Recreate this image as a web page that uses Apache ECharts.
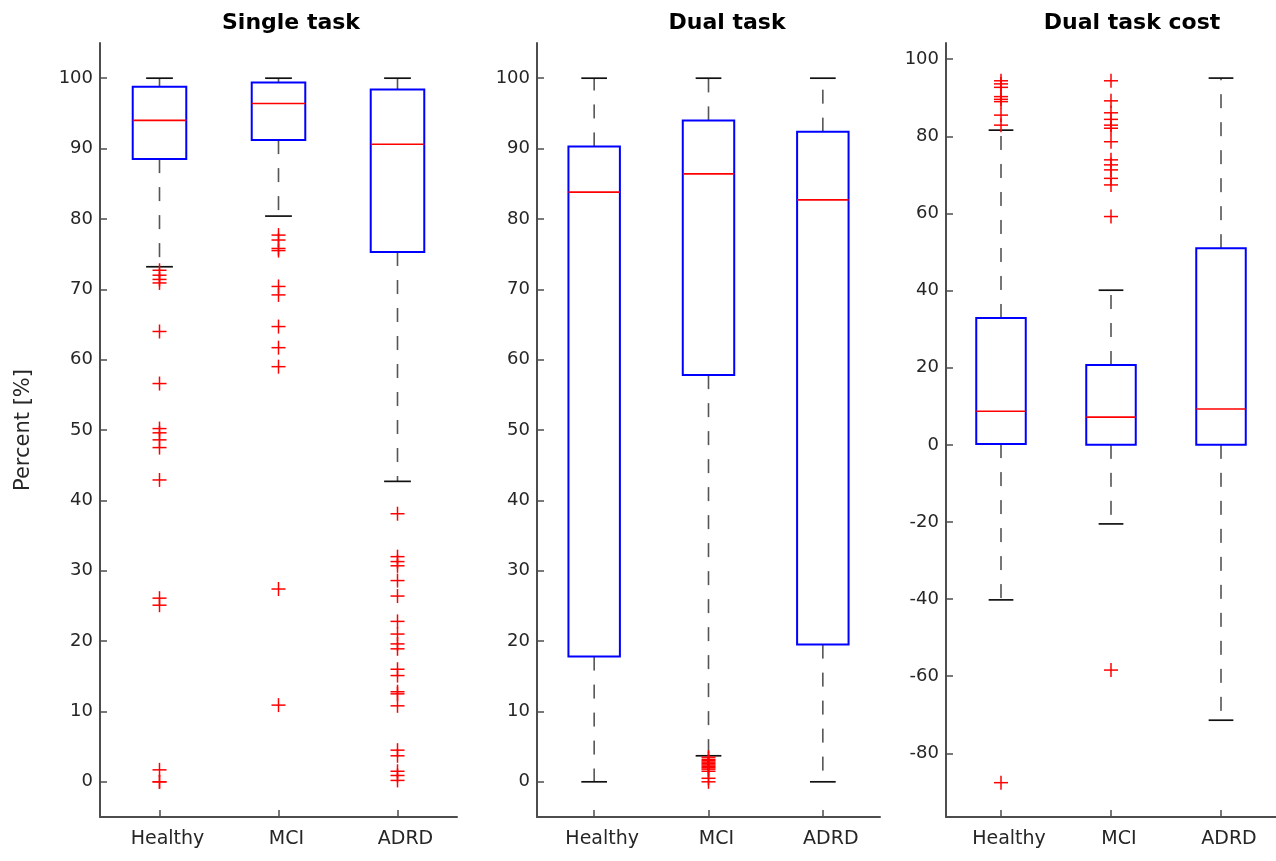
<!DOCTYPE html>
<html>
<head>
<meta charset="utf-8">
<script src="https://cdn.jsdelivr.net/npm/echarts@6/dist/echarts.min.js"></script>
<style>
html,body{margin:0;padding:0;background:#fff;}
#chart{width:1276px;height:861px;}
</style>
</head>
<body>
<div id="chart"></div>
<script>
// ---- data ----
const categories = ['Healthy', 'MCI', 'ADRD'];
const panelTitles = ['Single task', 'Dual task', 'Dual task cost'];
const yAxisName = 'Percent [%]';

// box stats per category: [lower whisker, Q1, median, Q3, upper whisker]
const singleBox = [
  [73.2, 88.5, 94.0, 98.8, 100],
  [80.4, 91.2, 96.4, 99.4, 100],
  [42.7, 75.3, 90.6, 98.4, 100]
];
const dualBox = [
  [0, 17.8, 83.8, 90.3, 100],
  [3.7, 57.8, 86.4, 94.0, 100],
  [0, 19.5, 82.7, 92.4, 100]
];
const costBox = [
  [-40.2, 0.2, 8.7, 32.9, 81.6],
  [-20.5, 0.0, 7.2, 20.7, 40.1],
  [-71.4, 0.0, 9.3, 51.0, 95.1]
];

// outliers per category
const singleOutHealthy = [72.7, 72.0, 71.4, 70.9, 64.0, 56.6, 50.2, 49.6, 48.6, 47.5, 42.9, 26.1, 25.1, 1.7, 0.0, 0.0];
const singleOutMCI = [77.7, 77.0, 75.8, 75.5, 70.4, 69.2, 64.7, 61.7, 59.0, 27.4, 10.9];
const singleOutADRD = [38.1, 32.0, 31.3, 30.7, 28.6, 26.4, 22.8, 21.0, 19.6, 18.9, 16.0, 15.1, 12.8, 12.5, 10.8, 4.5, 3.7, 1.5, 0.9, 0.2];
const dualOutHealthy = [];
const dualOutMCI = [3.5, 3.2, 3.0, 2.8, 2.6, 2.4, 2.2, 2.0, 1.8, 1.5, 0.5, 0.0];
const dualOutADRD = [];
const costOutHealthy = [94.4, 93.6, 92.7, 90.3, 89.6, 89.0, 85.5, 82.9, -87.6];
const costOutMCI = [94.4, 89.2, 86.1, 84.4, 82.9, 82.1, 78.6, 73.9, 72.6, 71.3, 69.1, 67.4, 59.2, -58.4];
const costOutADRD = [];

// axis ranges and tick labels
const percentRange = [-5, 105];
const costRange = [-96.5, 104.2];
const percentTicks = [0, 10, 20, 30, 40, 50, 60, 70, 80, 90, 100];
const costTicks = [-80, -60, -40, -20, 0, 20, 40, 60, 80, 100];

// ---- build ----
const panels = [
  {box: singleBox, out: [singleOutHealthy, singleOutMCI, singleOutADRD], range: percentRange, ticks: percentTicks, grid: {left: 100, width: 357}, titleX: 291},
  {box: dualBox, out: [dualOutHealthy, dualOutMCI, dualOutADRD], range: percentRange, ticks: percentTicks, grid: {left: 537, width: 343}, titleX: 727},
  {box: costBox, out: [costOutHealthy, costOutMCI, costOutADRD], range: costRange, ticks: costTicks, grid: {left: 946, width: 330}, titleX: 1132}
];

const FONT = 'DejaVu Sans';
const grids = [], xAxes = [], yAxes = [], series = [], graphics = [];

function renderBox(params, api) {
  const c = api.value(0);
  const lo = api.coord([c, api.value(1)]);
  const q1 = api.coord([c, api.value(2)]);
  const md = api.coord([c, api.value(3)]);
  const q3 = api.coord([c, api.value(4)]);
  const hi = api.coord([c, api.value(5)]);
  const band = api.size([1, 0])[0];
  const bw = band * 0.45;
  const cw = band * 0.225;
  const x = lo[0];
  const whiskerStyle = {stroke: '#555', lineWidth: 1.6, lineDash: [14, 14]};
  const capStyle = {stroke: '#111', lineWidth: 1.7};
  return {
    type: 'group',
    children: [
      {type: 'line', shape: {x1: x, y1: q3[1], x2: x, y2: hi[1]}, style: whiskerStyle},
      {type: 'line', shape: {x1: x, y1: q1[1], x2: x, y2: lo[1]}, style: whiskerStyle},
      {type: 'line', shape: {x1: x - cw / 2, y1: hi[1], x2: x + cw / 2, y2: hi[1]}, style: capStyle},
      {type: 'line', shape: {x1: x - cw / 2, y1: lo[1], x2: x + cw / 2, y2: lo[1]}, style: capStyle},
      {type: 'rect', shape: {x: x - bw / 2, y: q3[1], width: bw, height: q1[1] - q3[1]}, style: {fill: 'none', stroke: '#0000ff', lineWidth: 2}},
      {type: 'line', shape: {x1: x - bw / 2, y1: md[1], x2: x + bw / 2, y2: md[1]}, style: {stroke: '#ff0000', lineWidth: 1.6}}
    ]
  };
}

function renderPlus(params, api) {
  const p = api.coord([api.value(0), api.value(1)]);
  const h = 7;
  const st = {stroke: '#ff0000', lineWidth: 1.5};
  return {
    type: 'group',
    children: [
      {type: 'line', shape: {x1: p[0] - h, y1: p[1], x2: p[0] + h, y2: p[1]}, style: st},
      {type: 'line', shape: {x1: p[0], y1: p[1] - h, x2: p[0], y2: p[1] + h}, style: st}
    ]
  };
}

panels.forEach((pn, i) => {
  grids.push({left: pn.grid.left, width: pn.grid.width, top: 43, height: 774, containLabel: false});
  xAxes.push({
    type: 'category', gridIndex: i, data: categories,
    axisLine: {show: true, onZero: false, lineStyle: {color: '#4d4d4d', width: 2}},
    axisTick: {show: true, inside: true, alignWithLabel: true, length: 7, lineStyle: {color: '#4d4d4d', width: 1.5}},
    axisLabel: {color: '#262626', fontFamily: FONT, fontSize: 19, margin: 13, padding: [0, 0, 0, 16]},
    splitLine: {show: false}
  });
  yAxes.push({
    type: 'value', gridIndex: i, min: pn.range[0], max: pn.range[1],
    name: i === 0 ? yAxisName : '',
    nameLocation: 'middle', nameGap: 66, nameRotate: 90,
    nameTextStyle: {color: '#262626', fontFamily: FONT, fontSize: 21},
    axisLine: {show: true, lineStyle: {color: '#4d4d4d', width: 2}},
    axisTick: {show: true, inside: true, length: 7, customValues: pn.ticks, lineStyle: {color: '#4d4d4d', width: 1.5}},
    axisLabel: {color: '#262626', fontFamily: FONT, fontSize: 18, margin: 7, customValues: pn.ticks},
    splitLine: {show: false}
  });
  series.push({
    type: 'custom', xAxisIndex: i, yAxisIndex: i,
    renderItem: renderBox,
    encode: {x: 0, y: [1, 2, 3, 4, 5]},
    data: pn.box.map((b, k) => [k].concat(b)),
    silent: true, clip: false
  });
  const outData = [];
  pn.out.forEach((arr, k) => arr.forEach(v => outData.push([k, v])));
  series.push({
    type: 'custom', xAxisIndex: i, yAxisIndex: i,
    renderItem: renderPlus,
    encode: {x: 0, y: 1},
    data: outData,
    silent: true, clip: false, z: 3
  });
  graphics.push({
    type: 'text', x: pn.titleX, y: 23,
    style: {text: panelTitles[i], textAlign: 'center', textVerticalAlign: 'middle', font: 'bold 22px "DejaVu Sans"', fill: '#000'}
  });
});

const chart = echarts.init(document.getElementById('chart'), null, {renderer: 'canvas'});
chart.setOption({
  animation: false,
  backgroundColor: '#ffffff',
  grid: grids, xAxis: xAxes, yAxis: yAxes, series: series, graphic: graphics
});
</script>
</body>
</html>
